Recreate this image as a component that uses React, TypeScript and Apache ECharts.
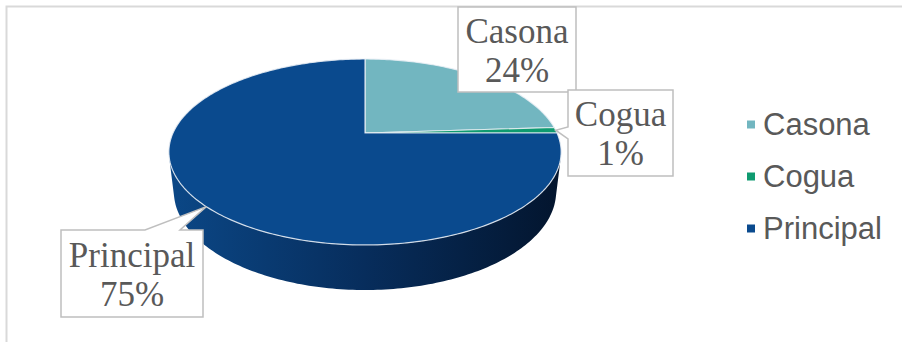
import React, { useEffect, useRef } from "react";
import * as echarts from "echarts";

// ---- data ----
const categories = ["Casona", "Cogua", "Principal"];
const values = [24, 1, 75];

// ---- styles / layout ----
const topColors = ["#72B6C0", "#0F9B70", "#0A4A8E"];
const wallStops = [
  ["#4E93A0", "#2E6E78", "#1B4A52"],
  ["#0A7A56", "#075E42", "#04402C"],
  ["#0B4786", "#072D5C", "#03152E"],
];
// callout boxes (layout only)
const calloutBoxes = [
  { x: 458, y: 7, w: 118, h: 85, side: "none", b0: 0, b1: 0 },
  { x: 568, y: 90, w: 105, h: 86, side: "left", b0: 127, b1: 139 },
  { x: 61, y: 230, w: 142, h: 87, side: "top", b0: 145, b1: 180 },
];

// 3D projection parameters (camera distance = 1)
const CX = 365;
const CY = 133;
const RAD = 0.2306;
const DEPTH = 0.0539;
const FOCAL = 832.6;
const ALPHA = (27.65 * Math.PI) / 180;
const sinA = Math.sin(ALPHA);
const cosA = Math.cos(ALPHA);

function project(theta: number, y: number): number[] {
  const X = RAD * Math.sin(theta);
  const Z = RAD * Math.cos(theta);
  const xc = X;
  const yc = y * cosA + Z * sinA;
  const zc = -y * sinA + Z * cosA + 1;
  return [CX + (FOCAL * xc) / zc, CY - (FOCAL * yc) / zc];
}

function arcPoints(a0: number, a1: number, y: number): number[][] {
  const pts: number[][] = [];
  const step = Math.PI / 180;
  const n = Math.max(1, Math.ceil((a1 - a0) / step));
  for (let k = 0; k <= n; k++) {
    pts.push(project(a0 + ((a1 - a0) * k) / n, y));
  }
  return pts;
}

const total = values.reduce((a, b) => a + b, 0);
const angles: number[][] = [];
{
  let acc = 0;
  values.forEach((v) => {
    const a0 = (acc / total) * Math.PI * 2;
    acc += v;
    const a1 = (acc / total) * Math.PI * 2;
    angles.push([a0, a1]);
  });
}

// front-facing wall range
const frontLimit = Math.acos(-RAD / cosA);
const frontStart = frontLimit;
const frontEnd = Math.PI * 2 - frontLimit;

function buildSlice(i: number) {
  const [a0, a1] = angles[i];
  const children: any[] = [];
  const w0 = Math.max(a0, frontStart);
  const w1 = Math.min(a1, frontEnd);
  if (w1 > w0) {
    const top = arcPoints(w0, w1, 0);
    const bot = arcPoints(w0, w1, -DEPTH).reverse();
    children.push({
      type: "polygon",
      z2: 1,
      shape: { points: top.concat(bot) },
      style: {
        fill: {
          type: "linear",
          x: 170,
          y: 0,
          x2: 560,
          y2: 0,
          global: true,
          colorStops: [
            { offset: 0, color: wallStops[i][0] },
            { offset: 0.5, color: wallStops[i][1] },
            { offset: 1, color: wallStops[i][2] },
          ],
        },
        stroke: "rgba(0,0,0,0)",
      },
    });
  }
  const topPts = [[CX, CY]].concat(arcPoints(a0, a1, 0));
  children.push({
    type: "polygon",
    z2: 10,
    shape: { points: topPts },
    style: {
      fill: topColors[i],
      stroke: "rgba(235,240,246,0.85)",
      lineWidth: 1.2,
      lineJoin: "round",
    },
  });

  // callout
  const b = calloutBoxes[i];
  const mid = (a0 + a1) / 2;
  const tip = project(mid, 0);
  let pts: number[][];
  if (b.side === "left") {
    pts = [
      [b.x, b.y],
      [b.x + b.w, b.y],
      [b.x + b.w, b.y + b.h],
      [b.x, b.y + b.h],
      [b.x, b.b1],
      tip,
      [b.x, b.b0],
    ];
  } else if (b.side === "top") {
    pts = [
      [b.x, b.y],
      [b.b0, b.y],
      tip,
      [b.b1, b.y],
      [b.x + b.w, b.y],
      [b.x + b.w, b.y + b.h],
      [b.x, b.y + b.h],
    ];
  } else {
    pts = [
      [b.x, b.y],
      [b.x + b.w, b.y],
      [b.x + b.w, b.y + b.h],
      [b.x, b.y + b.h],
    ];
  }
  children.push({
    type: "polygon",
    z2: 20,
    shape: { points: pts },
    style: { fill: "#ffffff", stroke: "#bfbfbf", lineWidth: 1.5 },
  });
  const pct = Math.round((values[i] / total) * 100) + "%";
  children.push({
    type: "text",
    z2: 21,
    x: b.x + b.w / 2,
    y: b.y + b.h / 2 + 1,
    style: {
      text: categories[i] + "\n" + pct,
      fill: "#595959",
      fontFamily: "Liberation Serif",
      fontSize: 35,
      lineHeight: 39,
      align: "center",
      verticalAlign: "middle",
    },
  });
  return { type: "group", children };
}

export default function App() {
  const ref = useRef<HTMLDivElement>(null);
  useEffect(() => {
    if (!ref.current) return;
    const chart = echarts.init(ref.current, null, { renderer: "svg" });
    chart.setOption({
      animation: false,
      backgroundColor: "#ffffff",
      legend: {
        orient: "vertical",
        left: 742,
        top: 103,
        icon: "rect",
        itemWidth: 8,
        itemHeight: 8,
        itemGap: 19,
        selectedMode: false,
        data: categories,
        textStyle: {
          fontFamily: "Liberation Sans",
          fontSize: 31,
          lineHeight: 33,
          color: "#595959",
          padding: [0, 0, 0, 3],
        },
      },
      graphic: [
        {
          type: "rect",
          z: -10,
          silent: true,
          shape: { x: 6.5, y: 6.5, width: 1000, height: 400 },
          style: { fill: "none", stroke: "#d9d9d9", lineWidth: 2 },
        },
      ],
      series: categories.map((name, i) => ({
        type: "custom",
        name,
        coordinateSystem: "none",
        data: [values[i]],
        itemStyle: { color: topColors[i] },
        renderItem: () => buildSlice(i),
      })),
    });
    return () => chart.dispose();
  }, []);
  return (
    <div
      ref={ref}
      style={{ position: "fixed", left: 0, top: 0, width: 902, height: 342 }}
    />
  );
}
